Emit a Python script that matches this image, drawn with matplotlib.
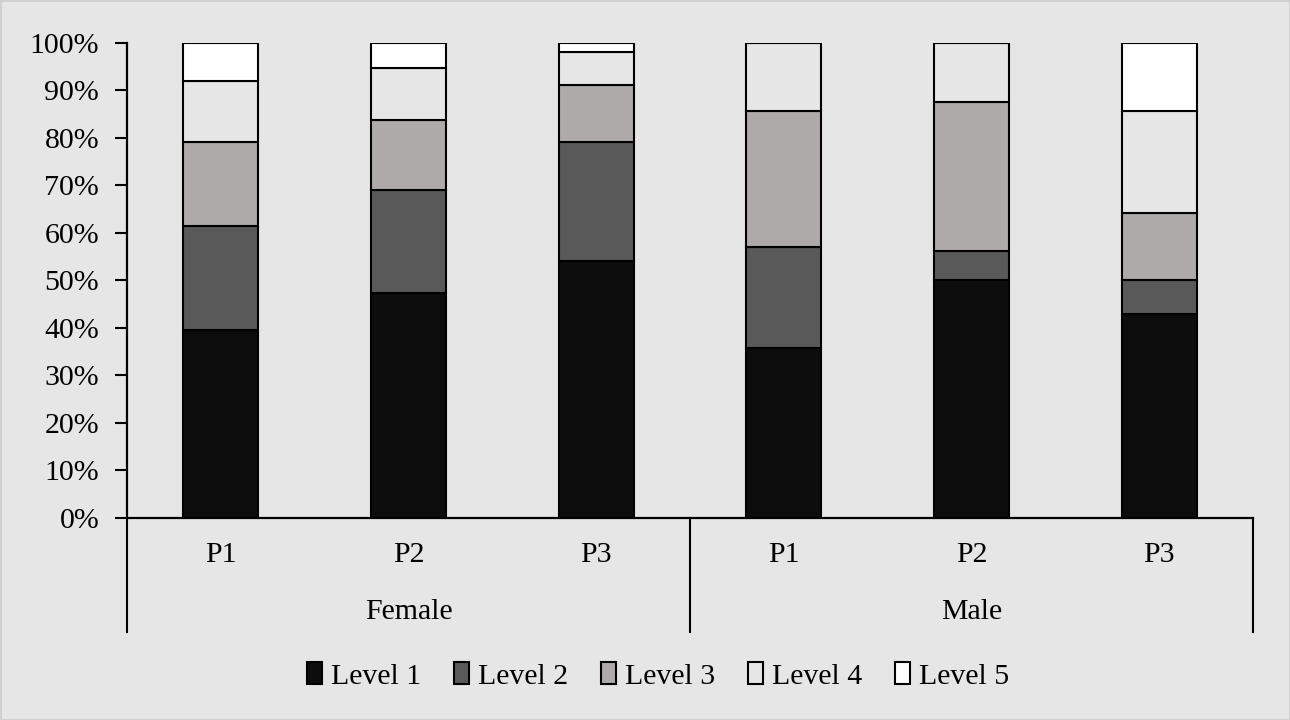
import matplotlib.pyplot as plt
from matplotlib.patches import Rectangle
from matplotlib.ticker import PercentFormatter
import numpy as np

plt.rcParams['font.family'] = ['Liberation Serif', 'DejaVu Serif']

groups = ['Female', 'Male']
periods = ['P1', 'P2', 'P3', 'P1', 'P2', 'P3']
levels = ['Level 1', 'Level 2', 'Level 3', 'Level 4', 'Level 5']

# share of each level (%), order: Female P1..P3, Male P1..P3
level1 = [39.5, 47.4, 54.1, 35.7, 50.0, 42.9]
level2 = [22.0, 21.7, 25.0, 21.4, 6.25, 7.1]
level3 = [17.6, 14.7, 12.0, 28.6, 31.25, 14.3]
level4 = [12.8, 10.9, 7.1, 14.3, 12.5, 21.4]
level5 = [8.1, 5.3, 1.8, 0.0, 0.0, 14.3]

bg = '#e6e6e6'
colors = ['#0d0d0d', '#595959', '#aeaaaa', bg, '#ffffff']
fs = 21.5

fig = plt.figure(figsize=(12.9, 7.2), dpi=100, facecolor=bg)
fig.patches.append(Rectangle((0, 0), 1, 1, transform=fig.transFigure,
                             fill=False, edgecolor='#cfcfcf', linewidth=2))
ax = fig.add_axes([0.0984, 0.2806, 0.8729, 0.6597])
ax.set_facecolor(bg)

x = np.arange(len(periods))
bottom = np.zeros(len(periods))
for name, vals, c in zip(levels, [level1, level2, level3, level4, level5], colors):
    vals = np.array(vals) / 100
    ax.bar(x, vals, width=0.4, bottom=bottom, color=c, edgecolor='black',
           linewidth=1.5, label=name)
    bottom += vals

ax.set_xlim(-0.5, 5.5)
ax.set_ylim(0, 1)
ax.set_yticks(np.arange(0, 1.01, 0.1))
ax.yaxis.set_major_formatter(PercentFormatter(1.0, decimals=0))
ax.tick_params(axis='y', length=9, width=1.5, labelsize=fs, pad=11)
ax.set_xticks(x)
ax.set_xticklabels(periods)
ax.tick_params(axis='x', length=0, labelsize=fs, pad=17)

for s in ['top', 'right']:
    ax.spines[s].set_visible(False)
for s in ['left', 'bottom']:
    ax.spines[s].set_linewidth(1.6)

# group separators and labels below the axis
trans = ax.get_xaxis_transform()
for xs in [-0.5, 2.5, 5.5]:
    ax.plot([xs, xs], [0, -0.24], color='black', linewidth=1.5,
            transform=trans, clip_on=False)
for i, g in enumerate(groups):
    ax.text(1 + 3 * i, -0.198, g, transform=trans, ha='center', va='center',
            fontsize=fs)

ax.legend(loc='center', bbox_to_anchor=(0.51, 0.061), bbox_transform=fig.transFigure,
          ncol=5, frameon=False, fontsize=fs, handlelength=0.5, handleheight=0.75,
          handletextpad=0.3, columnspacing=1.1)

fig.savefig('out.png', dpi=100, facecolor=bg)
